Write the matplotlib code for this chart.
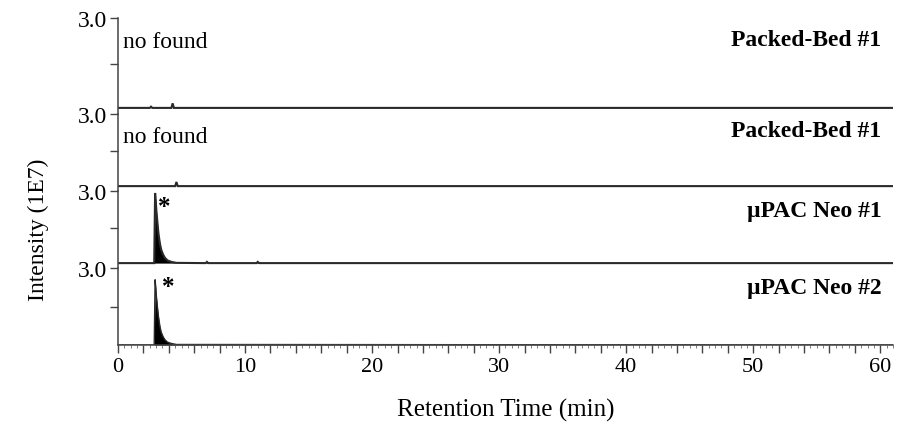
import matplotlib.pyplot as plt
from matplotlib.ticker import MultipleLocator, FixedLocator, FuncFormatter

plt.rcParams['font.family'] = ['Liberation Serif', 'DejaVu Serif']

# retention time (min) and intensity (1E7) for each trace
t_pb1 = [0, 2.5, 2.6, 2.7, 4.2, 4.3, 4.4, 61]
i_pb1 = [0.05, 0.05, 0.09, 0.05, 0.05, 0.2, 0.05, 0.05]

t_pb2 = [0, 4.5, 4.6, 4.7, 61]
i_pb2 = [0.05, 0.05, 0.22, 0.05, 0.05]

t_neo1 = [0, 2.85, 2.92, 2.97, 3.02, 3.08, 3.14, 3.2, 3.3, 3.4, 3.55, 3.7, 3.9, 4.2, 4.6,
          6.9, 7.0, 7.1, 10.9, 11.0, 11.1, 61]
i_neo1 = [0.05, 0.05, 2.92, 2.6, 2.2, 1.85, 1.5, 1.2, 0.85, 0.6, 0.4, 0.26, 0.16, 0.1, 0.06,
          0.05, 0.1, 0.05, 0.05, 0.1, 0.05, 0.05]

t_neo2 = [0, 2.85, 2.92, 2.97, 3.02, 3.08, 3.14, 3.2, 3.3, 3.4, 3.55, 3.7, 3.9, 4.2, 4.6, 61]
i_neo2 = [0.0, 0.0, 2.55, 2.25, 1.9, 1.6, 1.3, 1.05, 0.72, 0.5, 0.32, 0.2, 0.11, 0.06, 0.02, 0.0]

labels = ['Packed-Bed #1', 'Packed-Bed #1', 'µPAC Neo #1', 'µPAC Neo #2']
notes = ['no found', 'no found', '*', '*']
traces = [(t_pb1, i_pb1), (t_pb2, i_pb2), (t_neo1, i_neo1), (t_neo2, i_neo2)]
baselines = [0.05, 0.05, 0.05, 0.0]

W, H = 914, 427
fig = plt.figure(figsize=(W / 100, H / 100), dpi=100)

# panel boundaries in pixels (top, bottom)
bounds = [(19, 115), (115, 192), (192, 269), (269, 346)]
left, right = 118, 893
ymins = [-0.15, -0.15, -0.15, 0.0]
note_pos = [(0.4, 0.75), (0.4, 0.71), (3.65, 0.80), (3.95, 0.76)]
label_y = [0.78, 0.79, 0.75, 0.75]

for k, ((top, bot), (t, y)) in enumerate(zip(bounds, traces)):
    ax = fig.add_axes([left / W, 1 - bot / H, (right - left) / W, (bot - top) / H])
    ax.set_xlim(0, 61)
    ax.set_ylim(ymins[k], 3.0)
    ax.plot(t, y, color='#2a2a2a', lw=1.5 if k < 3 else 1.0, solid_joinstyle='miter')
    if k >= 2:
        ax.fill_between(t, baselines[k], y, color='black', lw=0)
    for s in ['top', 'right']:
        ax.spines[s].set_visible(False)
    ax.spines['left'].set_color('#444444')
    ax.spines['left'].set_linewidth(1.1)
    ax.yaxis.set_major_locator(FixedLocator([1.5, 3.0]))
    ax.set_yticklabels(['', '3.0'])
    ax.tick_params(axis='y', length=6, width=1, color='#444444', labelsize=17, pad=2)
    ax.text(0.985, label_y[k], labels[k], ha='right', va='center', fontsize=17,
            fontweight='bold', transform=ax.transAxes)
    nx, ny = note_pos[k]
    if k < 2:
        ax.text(nx, ny, notes[k], ha='left', va='center', fontsize=17,
                transform=ax.get_xaxis_transform())
    else:
        ax.text(nx, ny, notes[k], ha='center', va='center', fontsize=18, fontweight='bold',
                transform=ax.get_xaxis_transform())
    if k < 3:
        ax.spines['bottom'].set_visible(False)
        ax.tick_params(axis='x', bottom=False, labelbottom=False)
    else:
        ax.spines['bottom'].set_color('#444444')
        ax.spines['bottom'].set_linewidth(1.1)
        ax.xaxis.set_major_locator(MultipleLocator(2))
        ax.xaxis.set_minor_locator(MultipleLocator(0.5))
        ax.xaxis.set_major_formatter(FuncFormatter(lambda v, p: f'{v:.0f}' if round(v) % 10 == 0 else ''))
        ax.tick_params(axis='x', which='major', length=6, width=1, color='#444444',
                       labelsize=16, pad=3)
        ax.tick_params(axis='x', which='minor', length=2, width=0.6, color='#666666')

fig.text(506 / W, 1 - 410 / H, 'Retention Time (min)', ha='center', va='center', fontsize=18)
fig.text(38 / W, 1 - 230 / H, 'Intensity (1E7)', rotation=90, ha='center', va='center', fontsize=17)

fig.savefig('out.png', dpi=100)
